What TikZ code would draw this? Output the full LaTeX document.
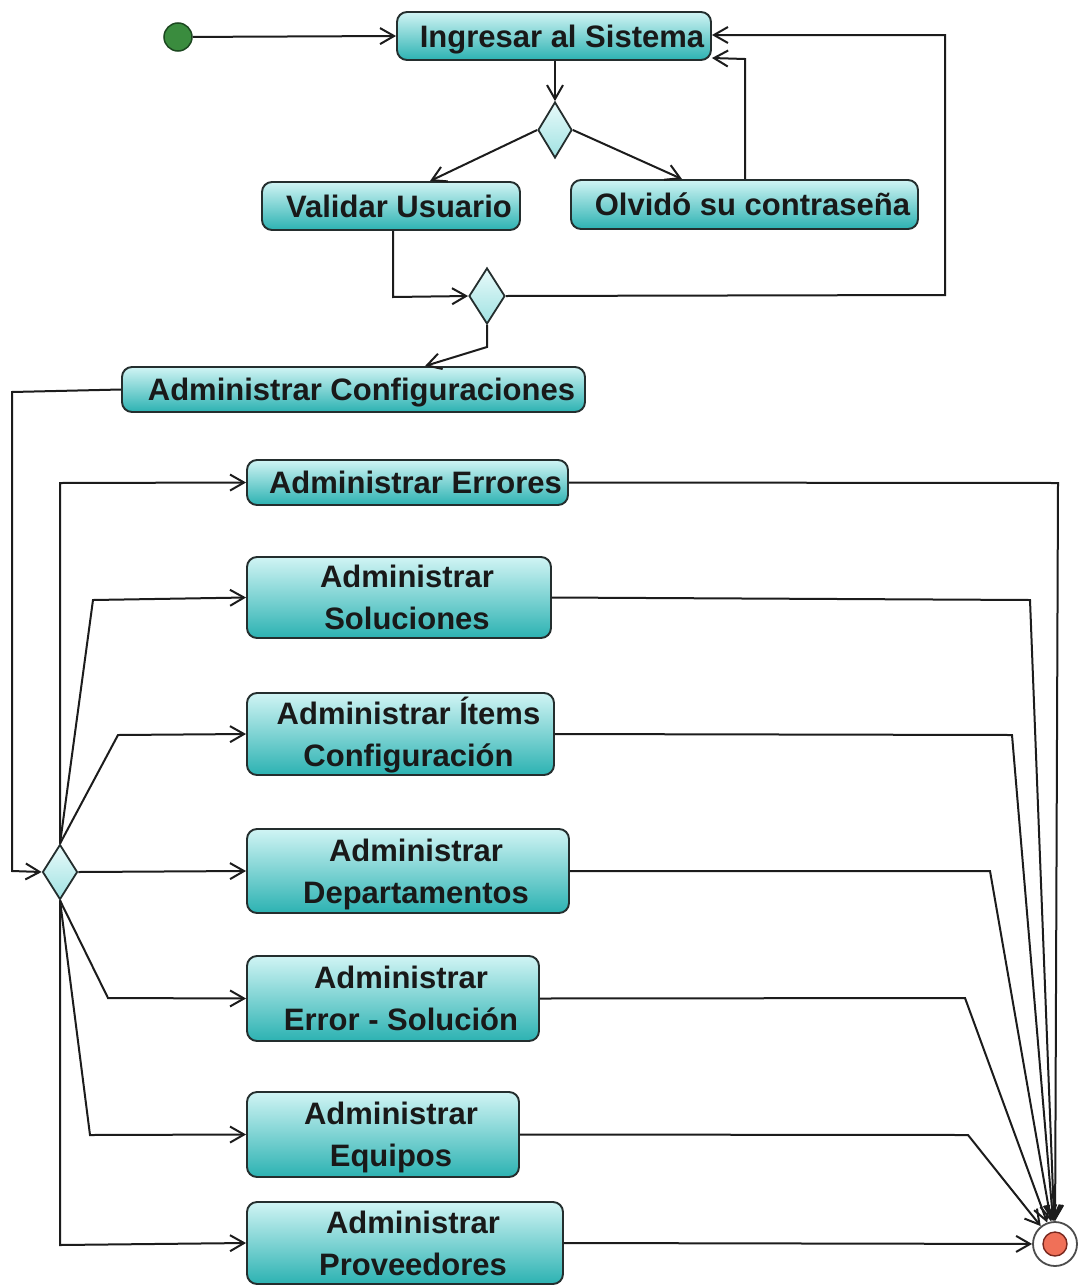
\documentclass[tikz,border=0pt]{standalone}
\usepackage{fontspec}
\setmainfont{Liberation Sans}
\usetikzlibrary{arrows.meta,shapes.geometric}
\definecolor{acttop}{RGB}{208,244,244}
\definecolor{actbot}{RGB}{44,178,178}
\definecolor{actline}{RGB}{36,46,46}
\definecolor{dtop}{RGB}{232,250,250}
\definecolor{dbot}{RGB}{160,226,226}
\definecolor{startfill}{RGB}{58,140,62}
\definecolor{startline}{RGB}{28,72,32}
\definecolor{endfill}{RGB}{240,112,88}
\definecolor{endline}{RGB}{120,40,30}
\definecolor{wire}{RGB}{28,28,28}
% labels sit slightly right of the box centre
\newcommand\ind{\hspace*{16pt}}
\tikzset{
  act/.style={draw=actline, line width=1.9pt, rounded corners=10pt,
    top color=acttop, bottom color=actbot, inner sep=0pt,
    align=center, text=black!90,
    font=\fontsize{31}{42}\selectfont\bfseries,
    text height=22.3pt, text depth=0pt},
  act2/.style={act, text height=64.3pt, text depth=0pt},
  decision/.style={diamond, draw=actline, line width=1.8pt,
    top color=dtop, bottom color=dbot, inner sep=0pt},
  flow/.style={draw=wire, line width=2pt,
    -{Straight Barb[length=14pt,width=16pt,line width=2pt]}}
}
\begin{document}
\begin{tikzpicture}[x=1pt,y=-1pt]
\path[fill=white] (0,0) rectangle (1078,1285);
\useasboundingbox (0,0) rectangle (1078,1285);

% initial and final states
\node[circle, fill=startfill, draw=startline, line width=1.5pt,
      minimum size=28pt, inner sep=0pt] (start) at (178,37) {};
\node[circle, fill=white, draw=black!70, line width=1.8pt,
      minimum size=44pt, inner sep=0pt] (fin) at (1055,1244) {};
\node[circle, fill=endfill, draw=endline, line width=1.4pt,
      minimum size=24pt, inner sep=0pt] (finin) at (1055,1244) {};

% activities
\node[act, minimum width=314pt, minimum height=48pt] (ingresar) at (554,36) {\ind Ingresar al Sistema};
\node[act, minimum width=258pt, minimum height=48pt] (validar) at (391,206) {\ind Validar Usuario};
\node[act, minimum width=347pt, minimum height=49pt] (olvido) at (744.5,204.5) {\ind Olvidó su contraseña};
\node[act, minimum width=463pt, minimum height=45pt] (config) at (353.5,389.5) {\ind Administrar Configuraciones};
\node[act, minimum width=321pt, minimum height=45pt] (errores) at (407.5,482.5) {\ind Administrar Errores};
\node[act2, minimum width=304pt, minimum height=81pt] (soluciones) at (399,597.5) {\ind Administrar\\\ind Soluciones};
\node[act2, minimum width=307pt, minimum height=82pt] (items) at (400.5,734) {\ind Administrar Ítems\\\ind Configuración};
\node[act2, minimum width=322pt, minimum height=84pt] (deptos) at (408,871) {\ind Administrar\\\ind Departamentos};
\node[act2, minimum width=292pt, minimum height=85pt] (errsol) at (393,998.5) {\ind Administrar\\\ind Error - Solución};
\node[act2, minimum width=272pt, minimum height=85pt] (equipos) at (383,1134.5) {\ind Administrar\\\ind Equipos};
\node[act2, minimum width=316pt, minimum height=82pt] (proveedores) at (405,1243) {\ind Administrar\\\ind Proveedores};

% decisions
\node[decision, minimum width=34pt, minimum height=56pt] (d1) at (555,130) {};
\node[decision, minimum width=36pt, minimum height=56pt] (d2) at (487,296) {};
\node[decision, minimum width=35pt, minimum height=55pt] (d3) at (60,872) {};

% login flow
\draw[flow] (start) -- (ingresar.west);
\draw[flow] (ingresar.south -| d1.north) -- (d1.north);
\draw[flow] (d1.west) -- (validar.north -| 430,0);
\draw[flow] (d1.east) -- (olvido.north -| 682,0);
\draw[flow] (olvido.north -| 745,0) -- (745,59) -- (ingresar.east |- 0,58);
\draw[flow] (validar.south -| 393,0) -- (393,297) -- (d2.west);
\draw[flow] (d2.east) -- (945,295) -- (945,35) -- (ingresar.east |- 0,35);
\draw[flow] (d2.south) -- (487,347) -- (config.north -| 425,0);
\draw[flow] (config.west) -- (12,392) -- (12,871) -- (d3.west);

% fan out to the administration activities
\draw[flow] (d3.north) -- (60,483) -- (errores.west);
\draw[flow] (d3.north) -- (93,600) -- (soluciones.west);
\draw[flow] (d3.north) -- (118,735) -- (items.west);
\draw[flow] (d3.east) -- (deptos.west);
\draw[flow] (d3.south) -- (108,998) -- (errsol.west);
\draw[flow] (d3.south) -- (90,1135) -- (equipos.west);
\draw[flow] (d3.south) -- (60,1245) -- (proveedores.west);

% every activity ends in the final state
\draw[flow] (errores.east) -- (1058,483) -- (fin);
\draw[flow] (soluciones.east) -- (1030,600) -- (fin);
\draw[flow] (items.east) -- (1012,735) -- (fin);
\draw[flow] (deptos.east) -- (990,871) -- (fin);
\draw[flow] (errsol.east) -- (965,998) -- (fin);
\draw[flow] (equipos.east) -- (968,1135) -- (fin);
\draw[flow] (proveedores.east) -- (fin);
\end{tikzpicture}
\end{document}
